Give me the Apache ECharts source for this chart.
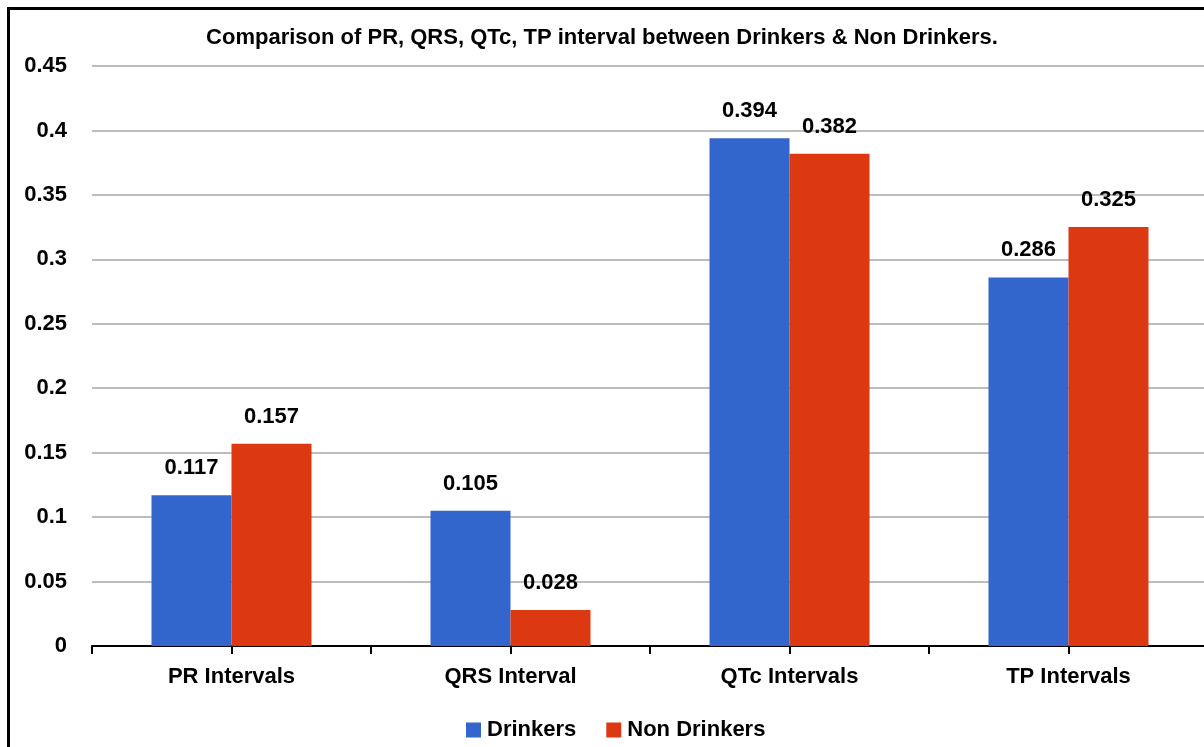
<!DOCTYPE html>
<html>
<head>
<meta charset="utf-8">
<script src="https://cdn.jsdelivr.net/npm/echarts@6/dist/echarts.min.js"></script>
<style>
  html, body { margin: 0; padding: 0; background: #fff; }
  #main { width: 1204px; height: 747px; }
</style>
</head>
<body>
<div id="main"></div>
<script>
// data
var categories = ['PR Intervals', 'QRS Interval', 'QTc Intervals', 'TP Intervals'];
var drinkers = [0.117, 0.105, 0.394, 0.286];
var nonDrinkers = [0.157, 0.028, 0.382, 0.325];
var seriesNames = ['Drinkers', 'Non Drinkers'];

var font = '"Liberation Sans Narrow", "Arial Narrow", "Liberation Sans", Arial, sans-serif';

var myChart = echarts.init(document.getElementById('main'));

// ticks at every half category (boundaries and centres)
var halfSlots = [];
for (var i = 0; i < categories.length * 2; i++) halfSlots.push('');

myChart.setOption({
  animation: false,
  textStyle: { fontFamily: font },
  title: {
    text: 'Comparison of PR, QRS, QTc, TP interval between Drinkers & Non Drinkers.',
    left: 'center',
    top: 22,
    textStyle: { fontFamily: font, fontSize: 22, fontWeight: 'bold', color: '#000' }
  },
  legend: {
    data: seriesNames,
    bottom: 1,
    left: 461,
    itemWidth: 15,
    itemHeight: 15,
    itemGap: 30,
    icon: 'rect',
    textStyle: { fontFamily: font, fontSize: 22, fontWeight: 'bold', color: '#000', padding: [0, 0, 0, 1] }
  },
  graphic: [{
    type: 'rect',
    shape: { x: 8.5, y: 8.5, width: 1210, height: 760 },
    style: { fill: 'none', stroke: '#000', lineWidth: 3 },
    silent: true
  }],
  grid: { left: 92, top: 66, width: 1116, bottom: 101, outerBoundsMode: 'none' },
  xAxis: [{
    type: 'category',
    data: categories,
    axisLine: { lineStyle: { color: '#000', width: 2 } },
    axisTick: { show: false },
    axisLabel: { margin: 20, fontFamily: font, fontSize: 22, fontWeight: 'bold', color: '#000' }
  }, {
    type: 'category',
    data: halfSlots,
    position: 'bottom',
    axisLine: { show: false },
    axisTick: { show: true, length: 8, inside: false, lineStyle: { color: '#000', width: 2 } },
    axisLabel: { show: false }
  }],
  yAxis: {
    type: 'value',
    min: 0,
    max: 0.45,
    interval: 0.05,
    axisLine: { show: false },
    axisTick: { show: false },
    splitLine: { lineStyle: { color: '#bdbdbd', width: 2 } },
    axisLabel: {
      margin: 25,
      fontFamily: font, fontSize: 22, fontWeight: 'bold', color: '#000',
      formatter: function (v) { return String(+v.toFixed(2)); }
    }
  },
  series: [{
    name: seriesNames[0],
    type: 'bar',
    data: drinkers,
    barWidth: 80,
    barGap: '0%',
    itemStyle: { color: '#3366cc' },
    label: { show: true, position: 'top', distance: 16, fontFamily: font, fontSize: 22, fontWeight: 'bold', color: '#000' }
  }, {
    name: seriesNames[1],
    type: 'bar',
    data: nonDrinkers,
    barWidth: 80,
    barGap: '0%',
    itemStyle: { color: '#dc3912' },
    label: { show: true, position: 'top', distance: 16, fontFamily: font, fontSize: 22, fontWeight: 'bold', color: '#000' }
  }]
});
</script>
</body>
</html>
